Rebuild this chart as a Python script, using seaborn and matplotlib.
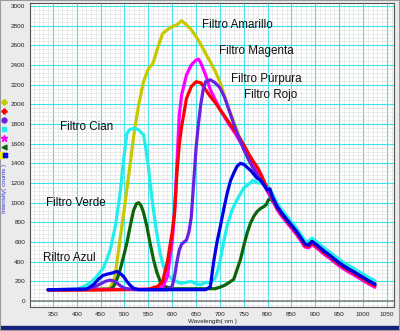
import numpy as np
import pandas as pd
import matplotlib
matplotlib.use("Agg")
import matplotlib.pyplot as plt
from matplotlib.lines import Line2D
from matplotlib.patches import Rectangle
from matplotlib.ticker import MultipleLocator
from matplotlib.legend_handler import HandlerTuple
import seaborn as sns

# ---------------- data ----------------
tail_wl = [810, 820, 830, 840, 850, 860, 870, 878, 886, 893, 903, 910, 920, 930, 940,
           950, 960, 970, 980, 990, 1000, 1010, 1025]
tail_val = [1060, 960, 890, 830, 770, 710, 640, 580, 570, 605, 570, 540, 500, 465, 425,
            388, 355, 325, 298, 268, 240, 210, 170]

amarillo_wl = [340, 400, 450, 470, 480, 490, 500, 510, 520, 530, 540, 550, 560, 570, 580,
               590, 600, 610, 620, 630, 640, 650, 660, 670, 680, 690, 700, 710, 720, 730,
               740, 750, 760, 770, 780, 790, 800] + tail_wl
amarillo_val = [115, 115, 120, 130, 250, 600, 950, 1320, 1700, 2000, 2230, 2360, 2420, 2580, 2720,
                2760, 2790, 2810, 2850, 2810, 2760, 2690, 2610, 2520, 2430, 2340, 2230, 2080, 1940, 1810,
                1680, 1550, 1440, 1350, 1275, 1215, 1175] + [v + 20 for v in tail_val]

rojo_wl = [340, 450, 500, 550, 570, 580, 590, 600, 605, 610, 615, 620, 630, 640, 650,
           660, 670, 680, 690, 700, 710, 720, 730, 740, 750, 760, 770, 780, 790, 800] + tail_wl
rojo_val = [110, 112, 115, 120, 150, 200, 400, 700, 900, 1300, 1600, 1780, 2060, 2180, 2230,
            2220, 2150, 2080, 2020, 1950, 1880, 1810, 1740, 1670, 1590, 1500, 1420, 1350, 1250, 1130] + \
           [v - 15 for v in tail_val]

purpura_wl = [340, 420, 440, 460, 470, 480, 490, 500, 520, 590, 600, 605, 610, 615, 620,
              630, 635, 640, 645, 650, 655, 660, 665, 670, 680, 690, 700, 710, 720, 730,
              740, 750, 760, 770, 780, 790, 800] + tail_wl
purpura_val = [115, 120, 150, 200, 212, 200, 160, 130, 115, 115, 150, 250, 400, 520, 580,
               620, 700, 850, 1200, 1550, 1800, 2000, 2150, 2230, 2250, 2220, 2170, 2070, 1930, 1790,
               1660, 1540, 1440, 1350, 1270, 1200, 1140] + tail_val

cian_wl = [340, 400, 414, 430, 442, 455, 463, 470, 481, 491, 498, 505, 510, 520, 530,
           540, 545, 550, 555, 561, 568, 575, 582, 589, 600, 617, 630, 640, 650, 660,
           670, 680, 690, 695, 701, 708, 715, 725, 736, 750, 764, 770, 780, 790, 800] + tail_wl
cian_val = [115, 120, 145, 190, 250, 330, 420, 520, 760, 1100, 1430, 1700, 1740, 1760, 1740,
            1690, 1550, 1370, 1150, 920, 680, 480, 350, 280, 220, 180, 190, 200, 175, 165,
            190, 185, 230, 300, 420, 600, 760, 920, 1030, 1150, 1200, 1230, 1200, 1200, 1170] + \
           [v + 35 for v in tail_val]

magenta_wl = [340, 550, 580, 590, 600, 605, 610, 615, 620, 630, 640, 650, 655, 660, 670,
              680, 690, 700, 710, 720, 730, 740, 750, 760, 770, 780, 790, 800] + tail_wl
magenta_val = [115, 120, 140, 250, 600, 900, 1400, 1900, 2100, 2300, 2400, 2450, 2460, 2420, 2300,
               2150, 2050, 1950, 1870, 1790, 1720, 1640, 1560, 1480, 1400, 1320, 1220, 1110] + \
              [v - 30 for v in tail_val]

verde_wl = [340, 470, 477, 485, 491, 498, 505, 512, 519, 525, 530, 535, 540, 547, 554,
            561, 568, 575, 582, 589, 600, 690, 700, 710, 720, 729, 736, 743, 750, 757,
            764, 771, 778, 785, 792, 797, 802, 806] + tail_wl[1:]
verde_val = [115, 120, 145, 230, 320, 450, 590, 760, 920, 990, 1000, 970, 900, 760, 580,
             420, 290, 200, 155, 140, 125, 125, 140, 160, 190, 220, 320, 420, 560, 690,
             790, 860, 910, 940, 960, 980, 1030, 1040] + tail_val[1:]

azul_wl = [340, 420, 435, 445, 455, 465, 475, 484, 490, 498, 505, 512, 519, 530, 670,
           680, 687, 694, 701, 708, 715, 722, 729, 736, 743, 750, 757, 764, 771, 778,
           785, 792, 799, 805] + tail_wl
azul_val = [115, 120, 165, 220, 260, 275, 285, 300, 285, 250, 200, 160, 130, 115, 115,
            145, 400, 600, 760, 930, 1090, 1220, 1300, 1370, 1400, 1390, 1360, 1330, 1290, 1250,
            1230, 1180, 1130, 1140] + tail_val

series_names = ["Amarillo", "Cian", "Verde", "Magenta", "Rojo", "Purpura", "Azul"]
series_data = {
    "Amarillo": (amarillo_wl, amarillo_val),
    "Cian": (cian_wl, cian_val),
    "Verde": (verde_wl, verde_val),
    "Magenta": (magenta_wl, magenta_val),
    "Rojo": (rojo_wl, rojo_val),
    "Purpura": (purpura_wl, purpura_val),
    "Azul": (azul_wl, azul_val),
}
colors = {
    "Amarillo": "#c8c800",
    "Cian": "#22eeee",
    "Verde": "#0a640a",
    "Magenta": "#ff00ff",
    "Rojo": "#ff0000",
    "Purpura": "#6a20e0",
    "Azul": "#0000e6",
}

labels = ["Filtro Amarillo", "Filtro Magenta", "Filtro Púrpura", "Filtro Rojo",
          "Filtro Cian", "Filtro Verde", "Riltro Azul"]
label_x = [663, 699, 724, 751, 365, 336, 330]
label_y = [2807, 2543, 2258, 2095, 1770, 997, 437]

x_ticks = list(range(350, 1051, 50))
y_ticks = list(range(0, 3001, 200))

# ---------------- figure ----------------
rows = []
for name in series_names:
    wl, val = series_data[name]
    for w, v in zip(wl, val):
        rows.append({"wl": w, "val": v, "filtro": name})
df = pd.DataFrame(rows)

sns.set_style("white")
plt.rcParams["font.family"] = ["Liberation Sans", "DejaVu Sans"]

fig = plt.figure(figsize=(4.0, 3.31), dpi=100, facecolor="#ebebeb")
ax = fig.add_axes([30 / 400, 1 - 307.3 / 331, 364 / 400, 304 / 331])
ax.set_facecolor("white")

ax.set_xlim(302, 1065)
ax.set_ylim(-64, 3028)
ax.xaxis.set_minor_locator(MultipleLocator(10))
ax.yaxis.set_minor_locator(MultipleLocator(40))
ax.set_xticks(x_ticks)
ax.set_yticks(y_ticks)
ax.grid(which="minor", color="#dcdcdc", lw=0.4)
ax.grid(which="major", color="#3ee0ea", lw=0.8)
ax.set_axisbelow(True)
ax.axhline(0, color="#8c8c8c", lw=1.3, zorder=1)

sns.lineplot(data=df, x="wl", y="val", hue="filtro", hue_order=series_names,
             palette=colors, sort=False, estimator=None, legend=False,
             linewidth=2.3, ax=ax, zorder=3)

for s, lx, ly in zip(labels, label_x, label_y):
    ax.text(lx, ly, s, ha="left", va="center", fontsize=8.4, color="#111111", zorder=5)

ax.tick_params(axis="both", which="major", labelsize=4.6, length=2, width=0.5,
               color="#666666", pad=1.5, labelcolor="#222222")
ax.tick_params(axis="both", which="minor", length=0)
ax.set_xlabel("Wavelength( nm )", fontsize=4.5, labelpad=1.5, color="#222222")
ax.set_ylabel("Intensity( counts )", fontsize=4.5, labelpad=2, color="#3030d0")
ax.yaxis.set_label_coords(-0.062, 0.39)
for sp in ax.spines.values():
    sp.set_color("#555555")
    sp.set_linewidth(0.8)

# left marker legend
handles = [
    Line2D([], [], ls="", marker="D", color="#c8c800", markersize=3),
    Line2D([], [], ls="", marker="P", color="#ff0000", markersize=3.5),
    Line2D([], [], ls="", marker="o", color="#6a20e0", markersize=3.5),
    Line2D([], [], ls="", marker="s", color="#22eeee", markersize=3.5),
    Line2D([], [], ls="", marker="*", color="#ff00ff", markersize=4.5),
    Line2D([], [], ls="", marker="<", color="#0a640a", markersize=3.5),
    (Line2D([], [], ls="", marker="s", color="#f0f000", markersize=4.5),
     Line2D([], [], ls="", marker="X", color="#0000e6", markersize=3.5)),
]
fig.legend(handles, [""] * len(handles), loc="upper left",
           bbox_to_anchor=(0.0, 1 - 100 / 331), frameon=False, handlelength=1.2,
           fontsize=4.3, labelspacing=0.62, borderpad=0.0, borderaxespad=0.0,
           handletextpad=0.0, handler_map={tuple: HandlerTuple(ndivide=None)})

# frame decoration
fig.patches.append(Rectangle((0, 0), 1, 5 / 331, transform=fig.transFigure,
                             color="#15207a", zorder=0))
fig.patches.append(Rectangle((0, 0), 1, 1, transform=fig.transFigure, fill=False,
                             edgecolor="#9a9a9a", lw=1.5, zorder=0))

fig.savefig("out.png", dpi=100, facecolor=fig.get_facecolor())
